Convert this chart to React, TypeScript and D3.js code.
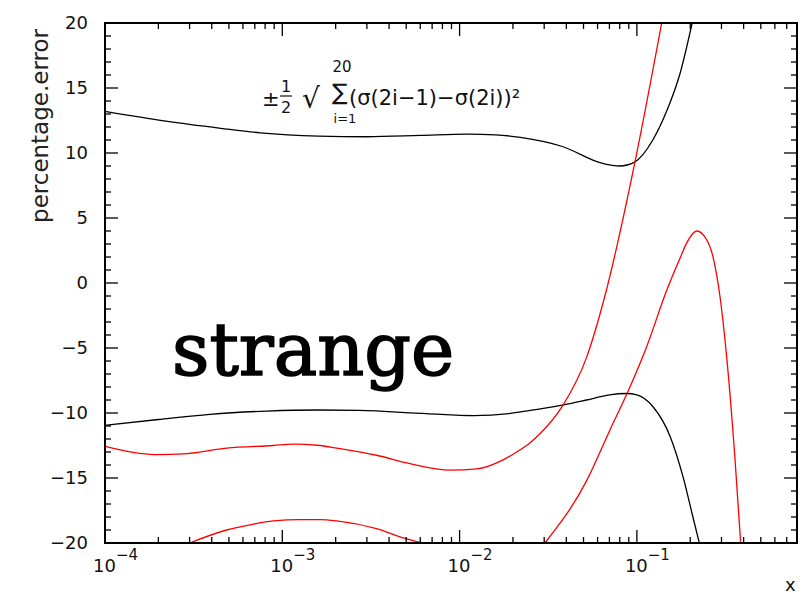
import { useEffect, useRef } from "react";
import * as d3 from "d3";

const LAYOUT = {
  width: 801,
  height: 594,
  margin: { top: 23, right: 4, bottom: 51, left: 105 },
};

const FONT = "'DejaVu Sans', sans-serif";

const X_DOMAIN: [number, number] = [1e-4, 0.8];
const Y_DOMAIN: [number, number] = [-20, 20];
const X_LABEL_DECADES = [-4, -3, -2, -1];
const Y_LABELS = [-20, -15, -10, -5, 0, 5, 10, 15, 20];

// [x, percentage error]
const BLACK_UPPER = [
  [1e-4, 13.2], [2.2e-4, 12.45], [4.5e-4, 11.9], [7.5e-4, 11.55], [1.6e-3, 11.3],
  [3e-3, 11.25], [6e-3, 11.35], [0.011, 11.45], [0.016, 11.4], [0.022, 11.2],
  [0.038, 10.5], [0.064, 9.2], [0.08, 9.0], [0.097, 9.3], [0.123, 11.0],
  [0.148, 13.3], [0.175, 16.1], [0.205, 20],
];

const BLACK_LOWER = [
  [1e-4, -10.95], [2e-4, -10.5], [3.9e-4, -10.1], [8.2e-4, -9.85], [1.6e-3, -9.77],
  [2.7e-3, -9.8], [6.5e-3, -10.05], [0.012, -10.2], [0.019, -10.05], [0.025, -9.8],
  [0.038, -9.4], [0.052, -9.0], [0.07, -8.6], [0.0875, -8.5], [0.1, -8.6],
  [0.123, -9.5], [0.154, -11.8], [0.182, -14.9], [0.207, -18.0], [0.225, -20],
];

const RED_STEEP = [
  [1e-4, -12.56], [1.57e-4, -13.1], [2e-4, -13.2], [2.75e-4, -13.15], [4.85e-4, -12.7],
  [8.9e-4, -12.5], [1.15e-3, -12.4], [1.63e-3, -12.5], [2.03e-3, -12.7], [3.4e-3, -13.25],
  [5.25e-3, -13.9], [8.8e-3, -14.4], [0.0125, -14.3], [0.0176, -13.6], [0.021, -13.0],
  [0.0249, -12.3], [0.0284, -11.6], [0.0383, -9.4], [0.0521, -5.7], [0.066, -1.0],
  [0.0975, 9.3], [0.138, 20],
];

const RED_PEAK = [
  [0.0303, -20], [0.0521, -15.2], [0.0705, -11.3], [0.0914, -8.0], [0.1135, -4.9],
  [0.147, -0.6], [0.175, 1.9], [0.193, 3.2], [0.217, 4.0], [0.24, 3.6],
  [0.27, 1.9], [0.294, -1.0], [0.321, -5.7], [0.357, -13.4], [0.385, -20],
];

const RED_ARC = [
  [3e-4, -20], [4.85e-4, -19.0], [6.57e-4, -18.6], [8.9e-4, -18.3], [1.26e-3, -18.2],
  [1.63e-3, -18.2], [2.03e-3, -18.3], [3.4e-3, -18.9], [4.8e-3, -19.6], [6.2e-3, -20],
];

const SERIES = [
  { data: BLACK_UPPER, color: "#000" },
  { data: BLACK_LOWER, color: "#000" },
  { data: RED_STEEP, color: "#ff0000" },
  { data: RED_PEAK, color: "#ff0000" },
  { data: RED_ARC, color: "#ff0000" },
];

function drawFrame(g, x, y, iw, ih) {
  const minorLen = 6;
  const majorLen = 13;

  // x ticks, bottom and top, pointing inward
  x.ticks().forEach((v) => {
    const isMajor = Math.abs(Math.log10(v) - Math.round(Math.log10(v))) < 1e-6;
    const len = isMajor ? majorLen : minorLen;
    const px = x(v);
    g.append("line").attr("x1", px).attr("x2", px).attr("y1", ih).attr("y2", ih - len)
      .attr("stroke", "#000").attr("stroke-width", 1.3);
    g.append("line").attr("x1", px).attr("x2", px).attr("y1", 0).attr("y2", len)
      .attr("stroke", "#000").attr("stroke-width", 1.3);
  });

  // y ticks every unit, left and right
  y.ticks(40).forEach((v) => {
    const len = v % 5 === 0 ? majorLen : minorLen;
    const py = y(v);
    g.append("line").attr("x1", 0).attr("x2", len).attr("y1", py).attr("y2", py)
      .attr("stroke", "#000").attr("stroke-width", 1.3);
    g.append("line").attr("x1", iw).attr("x2", iw - len).attr("y1", py).attr("y2", py)
      .attr("stroke", "#000").attr("stroke-width", 1.3);
  });

  g.append("rect").attr("width", iw).attr("height", ih)
    .attr("fill", "none").attr("stroke", "#000").attr("stroke-width", 2);

  // labels
  Y_LABELS.forEach((v) => {
    g.append("text")
      .attr("x", -17)
      .attr("y", y(v))
      .attr("dy", "0.36em")
      .attr("text-anchor", "end")
      .attr("font-family", FONT)
      .attr("font-size", 18)
      .attr("fill", "#111")
      .text(String(v).replace("-", "\u2212"));
  });

  X_LABEL_DECADES.forEach((d) => {
    const t = g.append("text")
      .attr("x", x(Math.pow(10, d)) - 12)
      .attr("y", ih + 29)
      .attr("font-family", FONT)
      .attr("font-size", 18)
      .attr("fill", "#111");
    t.append("tspan").text("10");
    t.append("tspan").attr("dy", -12).attr("font-size", 15).text(`\u2212${-d}`);
  });
}

function drawCurves(g, x, y, iw, ih) {
  g.append("clipPath").attr("id", "plot-clip")
    .append("rect").attr("width", iw).attr("height", ih);

  const line = d3.line<number[]>()
    .x((d) => x(d[0]))
    .y((d) => y(d[1]))
    .curve(d3.curveMonotoneX);

  const layer = g.append("g").attr("clip-path", "url(#plot-clip)");
  SERIES.forEach((s) => {
    layer.append("path")
      .datum(s.data)
      .attr("fill", "none")
      .attr("stroke", s.color)
      .attr("stroke-width", 1.3)
      .attr("d", line);
  });
}

function drawText(svg) {
  svg.append("text")
    .attr("transform", `translate(48, 126) rotate(-90)`)
    .attr("text-anchor", "middle")
    .attr("font-family", FONT)
    .attr("font-size", 23)
    .attr("fill", "#222")
    .text("percentage.error");

  svg.append("text")
    .attr("x", 785)
    .attr("y", 591)
    .attr("font-family", FONT)
    .attr("font-size", 18)
    .attr("fill", "#111")
    .text("x");

  svg.append("text")
    .attr("x", 172)
    .attr("y", 375)
    .attr("font-family", "'DejaVu Serif', serif")
    .attr("font-size", 73)
    .attr("stroke", "#000")
    .attr("stroke-width", 1.6)
    .text("strange");

  // formula annotation
  const f = svg.append("g").attr("font-family", FONT).attr("fill", "#111");
  f.append("text").attr("x", 262).attr("y", 106).attr("font-size", 21).text("\u00b1");
  f.append("text").attr("x", 286).attr("y", 92).attr("font-size", 16)
    .attr("text-anchor", "middle").text("1");
  f.append("line").attr("x1", 280).attr("x2", 292).attr("y1", 96).attr("y2", 96)
    .attr("stroke", "#111").attr("stroke-width", 1.2);
  f.append("text").attr("x", 286).attr("y", 113).attr("font-size", 16)
    .attr("text-anchor", "middle").text("2");
  f.append("text").attr("x", 302).attr("y", 108).attr("font-size", 28).text("\u221a");
  f.append("text").attr("x", 332).attr("y", 100).attr("font-size", 23).text("\u2211");
  f.append("text").attr("x", 342).attr("y", 72).attr("font-size", 15)
    .attr("text-anchor", "middle").text("20");
  f.append("text").attr("x", 345).attr("y", 123).attr("font-size", 13)
    .attr("text-anchor", "middle").text("i=1");
  f.append("text").attr("x", 349).attr("y", 105).attr("font-size", 21)
    .text("(\u03c3(2i\u22121)\u2212\u03c3(2i))\u00b2");
}

function App() {
  const ref = useRef<SVGSVGElement | null>(null);

  useEffect(() => {
    const node = ref.current;
    if (!node) return;
    const svg = d3.select(node);
    svg.selectAll("*").remove();

    const { width, height, margin } = LAYOUT;
    const iw = width - margin.left - margin.right;
    const ih = height - margin.top - margin.bottom;

    const x = d3.scaleLog().domain(X_DOMAIN).range([0, iw]);
    const y = d3.scaleLinear().domain(Y_DOMAIN).range([ih, 0]);

    const g = svg.append("g").attr("transform", `translate(${margin.left},${margin.top})`);

    drawCurves(g, x, y, iw, ih);
    drawFrame(g, x, y, iw, ih);
    drawText(svg);
  }, []);

  return (
    <div style={{ position: "absolute", left: 0, top: 0 }}>
      <svg ref={ref} width={LAYOUT.width} height={LAYOUT.height} style={{ display: "block", background: "#fff" }} />
    </div>
  );
}

export default App;
